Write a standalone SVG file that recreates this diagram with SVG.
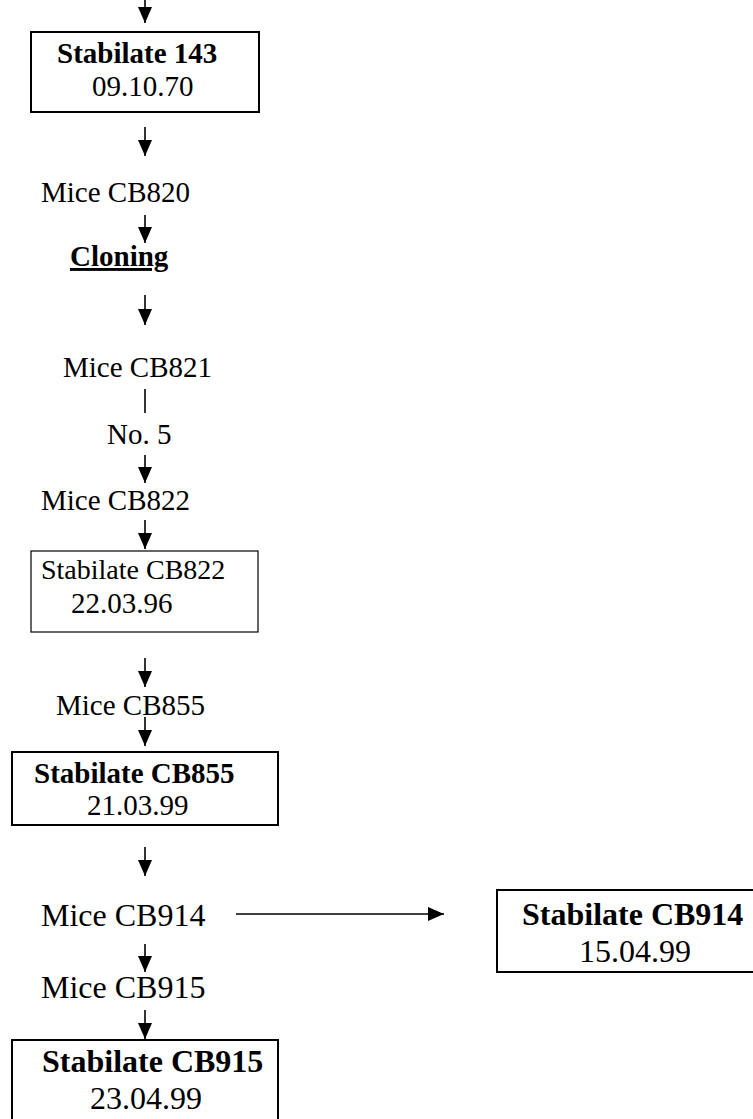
<svg xmlns="http://www.w3.org/2000/svg" width="753" height="1119" viewBox="0 0 753 1119">
<style>
text{font-family:"Liberation Serif","Times New Roman",serif;fill:#000}
.r{font-size:29px}
.b{font-size:29px;font-weight:bold}
.r32{font-size:32px}
.b32{font-size:32px;font-weight:bold}
.box{fill:#fff;stroke:#000;stroke-width:2}
.thin{fill:#fff;stroke:#000;stroke-width:1.2}
.c{stroke:#000;stroke-width:1.6;fill:none}
</style>
<defs>
<marker id="ah" markerUnits="userSpaceOnUse" markerWidth="16" markerHeight="14" refX="16" refY="7" orient="auto">
<path d="M0,0 L16,7 L0,14 z" fill="#000"/>
</marker>
</defs>
<rect width="753" height="1119" fill="#fff"/>
<g id="connectors">
<line class="c" x1="145" y1="0" x2="145" y2="23" marker-end="url(#ah)"/>
<line class="c" x1="145" y1="127" x2="145" y2="156" marker-end="url(#ah)"/>
<line class="c" x1="145" y1="215" x2="145" y2="243" marker-end="url(#ah)"/>
<line class="c" x1="145" y1="295" x2="145" y2="325" marker-end="url(#ah)"/>
<line class="c" x1="145" y1="389" x2="145" y2="413"/>
<line class="c" x1="145" y1="455" x2="145" y2="483" marker-end="url(#ah)"/>
<line class="c" x1="145" y1="520" x2="145" y2="549" marker-end="url(#ah)"/>
<line class="c" x1="145" y1="658" x2="145" y2="687" marker-end="url(#ah)"/>
<line class="c" x1="145" y1="717" x2="145" y2="746" marker-end="url(#ah)"/>
<line class="c" x1="145" y1="847" x2="145" y2="876" marker-end="url(#ah)"/>
<line class="c" x1="145" y1="944" x2="145" y2="972" marker-end="url(#ah)"/>
<line class="c" x1="145" y1="1010" x2="145" y2="1039" marker-end="url(#ah)"/>
<line class="c" x1="236" y1="914" x2="444" y2="914" marker-end="url(#ah)"/>
</g>
<g id="stabilate143">
<rect class="box" x="31" y="32" width="228" height="80"/>
<text class="b" x="57" y="63">Stabilate 143</text>
<text class="r" x="92" y="96">09.10.70</text>
</g>
<g id="miceCB820"><text class="r" x="41" y="202">Mice CB820</text></g>
<g id="cloning"><text class="b" x="70" y="266" text-decoration="underline">Cloning</text></g>
<g id="miceCB821"><text class="r" x="63" y="377">Mice CB821</text></g>
<g id="no5"><text class="r" x="107" y="444">No. 5</text></g>
<g id="miceCB822"><text class="r" x="41" y="510">Mice CB822</text></g>
<g id="stabilateCB822">
<rect class="thin" x="31" y="551" width="227" height="81"/>
<text class="r" x="41" y="579" style="font-size:28px">Stabilate CB822</text>
<text class="r" x="71" y="613">22.03.96</text>
</g>
<g id="miceCB855"><text class="r" x="56" y="715">Mice CB855</text></g>
<g id="stabilateCB855">
<rect class="box" x="12" y="752" width="266" height="73"/>
<text class="b" x="34" y="783">Stabilate CB855</text>
<text class="r" x="87" y="815">21.03.99</text>
</g>
<g id="miceCB914"><text class="r32" x="41" y="926">Mice CB914</text></g>
<g id="stabilateCB914">
<rect class="box" x="497" y="890" width="260" height="82"/>
<text class="b32" x="522" y="925">Stabilate CB914</text>
<text class="r32" x="579" y="962">15.04.99</text>
</g>
<g id="miceCB915"><text class="r32" x="41" y="998">Mice CB915</text></g>
<g id="stabilateCB915">
<rect class="box" x="12" y="1040" width="266" height="85"/>
<text class="b32" x="42" y="1072">Stabilate CB915</text>
<text class="r32" x="90" y="1109">23.04.99</text>
</g>
</svg>
